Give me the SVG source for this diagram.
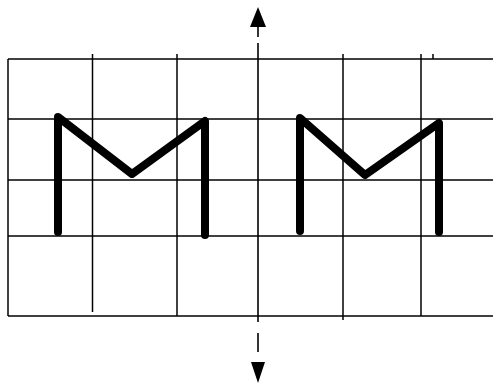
<svg xmlns="http://www.w3.org/2000/svg" width="493" height="388" viewBox="0 0 493 388">
<style>
.grid{stroke:#000;stroke-width:1.5;fill:none}
.letter{stroke:#000;stroke-width:8;fill:none;stroke-linecap:round;stroke-linejoin:round}
.axis{stroke:#000;stroke-width:1.6;fill:none}
.head{fill:#000}
</style>
<rect width="493" height="388" fill="#fff"/>
<g id="grid" class="grid">
<line x1="8" y1="59" x2="493" y2="59"/>
<line x1="8" y1="119" x2="493" y2="119"/>
<line x1="8" y1="180" x2="493" y2="180"/>
<line x1="8" y1="236" x2="493" y2="236"/>
<line x1="8" y1="316" x2="493" y2="316"/>
<line x1="8" y1="59" x2="8" y2="316"/>
<line x1="92.5" y1="54" x2="92.5" y2="312"/>
<line x1="177" y1="54" x2="177" y2="316"/>
<line x1="343" y1="54" x2="343" y2="320"/>
<line x1="421" y1="54" x2="421" y2="316"/>
<line x1="433" y1="54" x2="433" y2="59"/>
</g>
<g id="axis">
<line class="axis" x1="258" y1="26" x2="258" y2="37"/>
<line class="axis" x1="258" y1="43" x2="258" y2="322"/>
<line class="axis" x1="258" y1="333" x2="258" y2="352"/>
<polygon class="head" points="258,7 250,27 266,27"/>
<polygon class="head" points="258,383 251,362 265,362"/>
</g>
<g id="m-left">
<polyline class="letter" points="58,232 58,117 132,174 205,121 205,235"/>
</g>
<g id="m-right">
<polyline class="letter" points="300,231 300,118 365,175 439,123 439,232"/>
</g>
</svg>
